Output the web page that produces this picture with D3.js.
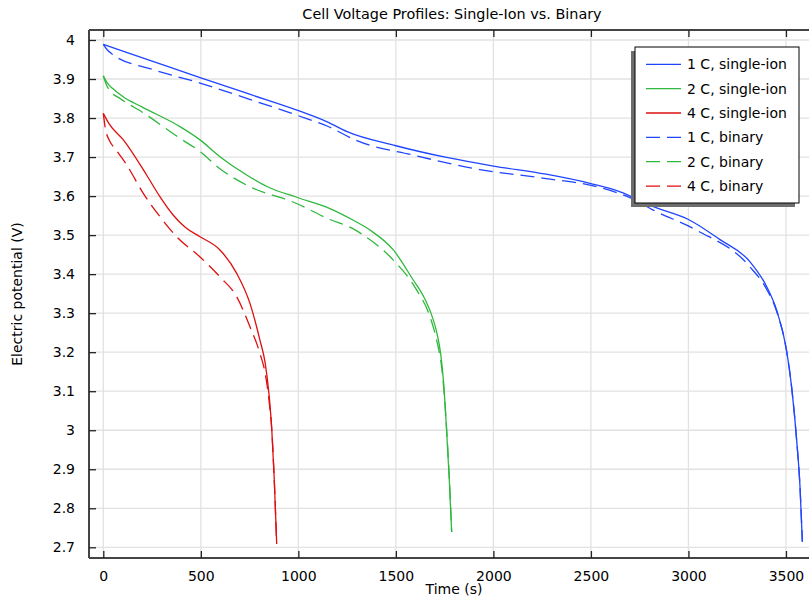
<!DOCTYPE html>
<html>
<head>
<meta charset="utf-8">
<script src="https://cdn.jsdelivr.net/npm/d3@7"></script>
<style>
  html, body { margin: 0; padding: 0; background: #fff; overflow: hidden; }
  svg { display: block; font-family: "DejaVu Sans", sans-serif; }
</style>
</head>
<body>
<svg id="chart" width="809" height="597"></svg>
<script>
// ---- Data ----
const titleText = "Cell Voltage Profiles: Single-Ion vs. Binary";
const xLabel = "Time (s)";
const yLabel = "Electric potential (V)";
const xTicks = [0, 500, 1000, 1500, 2000, 2500, 3000, 3500];
const yTicks = [2.7, 2.8, 2.9, 3.0, 3.1, 3.2, 3.3, 3.4, 3.5, 3.6, 3.7, 3.8, 3.9, 4.0];

const t1CSingle = [0, 250, 500, 750, 1000, 1145, 1250, 1500, 1760, 2000, 2270, 2500, 2650, 2820, 3000, 3160, 3315, 3400, 3452, 3503, 3529, 3555, 3572, 3584];
const v1CSingle = [3.989, 3.946, 3.903, 3.861, 3.819, 3.791, 3.765, 3.729, 3.699, 3.677, 3.656, 3.632, 3.611, 3.573, 3.540, 3.489, 3.432, 3.369, 3.308, 3.205, 3.111, 2.974, 2.855, 2.714];

const t2CSingle = [0, 20, 50, 100, 200, 393, 496, 598, 735, 850, 991, 1162, 1282, 1367, 1487, 1589, 1640, 1680, 1710, 1730, 1745, 1760, 1774, 1786];
const v2CSingle = [3.908, 3.890, 3.875, 3.855, 3.828, 3.778, 3.744, 3.701, 3.654, 3.622, 3.597, 3.568, 3.538, 3.513, 3.462, 3.385, 3.345, 3.300, 3.250, 3.195, 3.120, 3.000, 2.872, 2.739];

const t4CSingle = [0, 30, 103, 222, 291, 359, 420, 496, 598, 684, 752, 803, 829, 850, 864, 876, 889];
const v4CSingle = [3.812, 3.785, 3.744, 3.654, 3.598, 3.551, 3.520, 3.496, 3.462, 3.402, 3.325, 3.231, 3.175, 3.090, 3.000, 2.880, 2.709];

const t1CBinary = [0, 20, 50, 250, 500, 750, 1000, 1150, 1300, 1590, 1930, 2270, 2530, 2717, 2820, 3040, 3315, 3400, 3452, 3503, 3529, 3555, 3572, 3584];
const v1CBinary = [3.989, 3.975, 3.962, 3.925, 3.889, 3.848, 3.806, 3.779, 3.742, 3.705, 3.668, 3.645, 3.624, 3.592, 3.564, 3.513, 3.419, 3.362, 3.305, 3.203, 3.110, 2.973, 2.855, 2.714];

const t2CBinary = [0, 15, 34, 86, 200, 393, 497, 598, 735, 991, 1162, 1282, 1333, 1487, 1607, 1675, 1709, 1735, 1750, 1763, 1775, 1786];
const v2CBinary = [3.908, 3.886, 3.870, 3.850, 3.815, 3.748, 3.714, 3.670, 3.628, 3.581, 3.540, 3.516, 3.500, 3.436, 3.359, 3.291, 3.231, 3.160, 3.080, 2.980, 2.870, 2.739];

const t4CBinary = [0, 10, 34, 60, 120, 205, 291, 376, 496, 598, 684, 752, 803, 829, 850, 864, 876, 889];
const v4CBinary = [3.812, 3.775, 3.740, 3.722, 3.680, 3.607, 3.547, 3.496, 3.444, 3.393, 3.342, 3.265, 3.197, 3.148, 3.075, 3.000, 2.880, 2.709];

const seriesNames = ["1 C, single-ion", "2 C, single-ion", "4 C, single-ion", "1 C, binary", "2 C, binary", "4 C, binary"];
const seriesColors = ["#1f45ff", "#2fb83e", "#dd0f0f", "#1f45ff", "#2fb83e", "#dd0f0f"];
const seriesDashed = [false, false, false, true, true, true];
const seriesTimes = [t1CSingle, t2CSingle, t4CSingle, t1CBinary, t2CBinary, t4CBinary];
const seriesValues = [v1CSingle, v2CSingle, v4CSingle, v1CBinary, v2CBinary, v4CBinary];

// ---- Layout ----
const svg = d3.select("#chart");
const pLeft = 89, pRight = 816, pTop = 30, pBottom = 558;

const x = d3.scaleLinear().domain([-73.3, 3654]).range([pLeft, pRight]);
const y = d3.scaleLinear().domain([2.6726, 4.0256]).range([pBottom, pTop]);

// clip
svg.append("defs").append("clipPath").attr("id", "plotclip")
  .append("rect").attr("x", pLeft).attr("y", pTop).attr("width", pRight - pLeft).attr("height", pBottom - pTop);

// grid
const grid = svg.append("g");
grid.selectAll("line.gx").data(xTicks).enter().append("line")
  .attr("x1", d => x(d)).attr("x2", d => x(d)).attr("y1", pTop).attr("y2", pBottom)
  .attr("stroke", "#e2e2e2").attr("stroke-width", 1.3);
grid.selectAll("line.gy").data(yTicks).enter().append("line")
  .attr("x1", pLeft).attr("x2", pRight).attr("y1", d => y(d)).attr("y2", d => y(d))
  .attr("stroke", "#e2e2e2").attr("stroke-width", 1.3);

// lines
const line = d3.line().x(d => x(d[0])).y(d => y(d[1])).curve(d3.curveMonotoneX);
const plot = svg.append("g").attr("clip-path", "url(#plotclip)");
seriesNames.forEach((name, i) => {
  const pts = seriesTimes[i].map((t, j) => [t, seriesValues[i][j]]);
  plot.append("path").datum(pts)
    .attr("d", line)
    .attr("fill", "none")
    .attr("stroke", seriesColors[i])
    .attr("stroke-width", 1.3)
    .attr("stroke-dasharray", seriesDashed[i] ? "14,7" : null);
});

// axes
const axisColor = "#444";
const axBottom = d3.axisBottom(x).tickValues(xTicks).tickSizeInner(-7).tickSizeOuter(0).tickPadding(13).tickFormat(d3.format("d"));
const gB = svg.append("g").attr("transform", `translate(0,${pBottom})`).call(axBottom);
const axTop = d3.axisTop(x).tickValues(xTicks).tickSizeInner(-7).tickSizeOuter(0).tickFormat("");
const gT = svg.append("g").attr("transform", `translate(0,${pTop})`).call(axTop);
const axLeft = d3.axisLeft(y).tickValues(yTicks).tickSizeInner(-7).tickSizeOuter(0).tickPadding(14)
  .tickFormat(d => String(+d.toFixed(1)));
const gL = svg.append("g").attr("transform", `translate(${pLeft},0)`).call(axLeft);

[gB, gT, gL].forEach(g => {
  g.select(".domain").attr("stroke", axisColor).attr("stroke-width", 2);
  g.selectAll(".tick line").attr("stroke", "#222").attr("stroke-width", 1.3);
  g.selectAll(".tick text").attr("fill", "#000").attr("font-size", 14).attr("font-family", "DejaVu Sans, sans-serif");
});
gL.select(".domain").attr("d", `M0,${pTop}V${pBottom}`);
gB.select(".domain").attr("d", `M${pLeft},0H${pRight}`);
gT.select(".domain").attr("d", `M${pLeft},0H${pRight}`);

// title and labels
svg.append("text").attr("x", 452).attr("y", 19).attr("text-anchor", "middle")
  .attr("font-size", 14.4).attr("fill", "#000").text(titleText);
svg.append("text").attr("x", 454).attr("y", 594).attr("text-anchor", "middle")
  .attr("font-size", 14).attr("fill", "#000").text(xLabel);
svg.append("text").attr("transform", "translate(22,294) rotate(-90)").attr("text-anchor", "middle")
  .attr("font-size", 14).attr("fill", "#000").text(yLabel);

// legend
const lg = svg.append("g");
const lx = 635, ly = 47, lw = 164, lh = 156;
lg.append("rect").attr("x", lx - 4).attr("y", ly + 4).attr("width", lw).attr("height", lh).attr("fill", "#6e6e6e");
lg.append("rect").attr("x", lx).attr("y", ly).attr("width", lw).attr("height", lh)
  .attr("fill", "#fff").attr("stroke", "#000").attr("stroke-width", 1);
seriesNames.forEach((name, i) => {
  const cy = 64.3 + i * 24.35;
  lg.append("line").attr("x1", 646).attr("x2", 681).attr("y1", cy).attr("y2", cy)
    .attr("stroke", seriesColors[i]).attr("stroke-width", 1.3)
    .attr("stroke-dasharray", seriesDashed[i] ? "14,7" : null);
  lg.append("text").attr("x", 687).attr("y", cy).attr("dy", "0.35em")
    .attr("font-size", 14).attr("fill", "#000").text(name);
});
</script>
</body>
</html>
